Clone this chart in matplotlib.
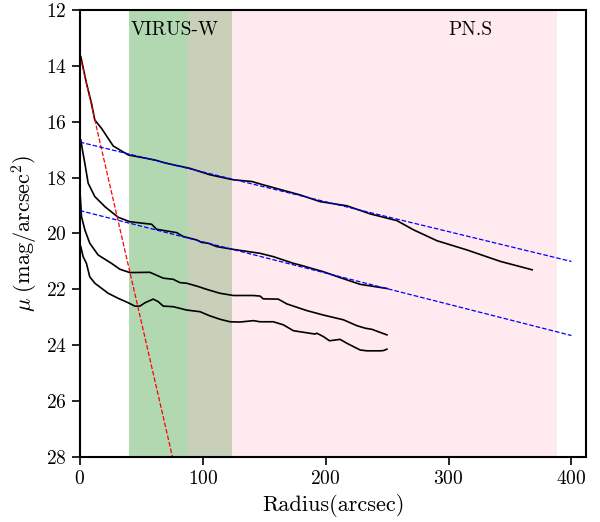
import numpy as np
import matplotlib
matplotlib.use("Agg")
import matplotlib.pyplot as plt

plt.rcParams['font.family'] = 'serif'
plt.rcParams['font.serif'] = ['cmr10', 'DejaVu Serif']
plt.rcParams['mathtext.fontset'] = 'cm'
plt.rcParams['axes.formatter.use_mathtext'] = True

# surface brightness profiles
r1 = [0.8, 5.4, 9.5, 12.2, 17.7, 27.2, 39.4, 61.1, 70.6, 89.6, 105.9, 124.9, 139.9, 149.3,
      165.0, 179.2, 195.5, 217.3, 236.3, 258.0, 271.5, 290.6, 315.0, 342.2, 368.0]
mu1 = [13.67, 14.62, 15.34, 15.94, 16.24, 16.87, 17.19, 17.37, 17.49, 17.67, 17.9, 18.08, 18.14, 18.26,
       18.45, 18.62, 18.86, 19.01, 19.3, 19.54, 19.87, 20.26, 20.59, 21.0, 21.3]

r2 = [0.8, 2.5, 4.1, 6.8, 12.2, 20.4, 31.2, 40.7, 58.4, 62.5, 65.2, 78.8, 84.2, 95.0, 99.1, 104.5,
      111.4, 124.9, 146.6, 157.5, 173.8, 179.2, 198.2, 211.8, 228.1, 248.5, 250.0]
mu2 = [16.65, 17.1, 17.49, 18.2, 18.68, 19.04, 19.42, 19.58, 19.67, 19.85, 19.87, 19.97, 20.11, 20.23,
       20.32, 20.35, 20.47, 20.57, 20.71, 20.83, 21.07, 21.13, 21.37, 21.58, 21.82, 21.96, 21.97]

r3 = [0.3, 1.4, 4.1, 8.1, 14.9, 25.8, 32.6, 40.7, 57.0, 67.9, 76.0, 81.5, 86.9, 96.4, 103.2, 114.0,
      124.9, 141.2, 146.6, 149.3, 161.5, 168.4, 179.2, 184.7, 198.2, 214.5, 225.4, 232.2, 237.6, 249.9]
mu3 = [18.6, 19.4, 19.87, 20.35, 20.77, 21.07, 21.28, 21.4, 21.39, 21.6, 21.64, 21.76, 21.78, 21.9, 22.0, 22.14,
       22.22, 22.22, 22.24, 22.34, 22.35, 22.52, 22.68, 22.76, 22.92, 23.09, 23.3, 23.39, 23.43, 23.63]

r4 = [0.8, 2.7, 5.4, 8.1, 12.2, 23.1, 31.2, 39.4, 44.8, 48.9, 53.0, 59.7, 63.8, 67.9, 76.0, 86.9, 97.8,
      105.9, 114.0, 122.2, 130.3, 141.2, 146.6, 157.5, 165.6, 173.8, 191.4, 192.8, 198.2, 203.1, 211.8,
      217.3, 228.1, 233.6, 244.4, 247.1, 249.9]
mu4 = [20.47, 20.83, 21.07, 21.55, 21.78, 22.14, 22.32, 22.48, 22.6, 22.6, 22.48, 22.35, 22.44, 22.6, 22.62,
       22.74, 22.8, 22.95, 23.07, 23.16, 23.17, 23.12, 23.16, 23.16, 23.27, 23.48, 23.6, 23.57, 23.69, 23.84,
       23.79, 23.93, 24.17, 24.2, 24.2, 24.19, 24.14]

# fitted lines
red_fit = (13.6, 0.191)          # intercept, slope
blue_fits = [(16.73, 0.01068), (19.18, 0.01118)]

fig = plt.figure(figsize=(6.0, 5.22), dpi=100)
ax = fig.add_axes([0.133, 0.1245, 0.844, 0.8565])

ax.axvspan(40, 124, color='green', alpha=0.3, lw=0)
ax.axvspan(88, 388, color='pink', alpha=0.3, lw=0)

for r, mu in [(r1, mu1), (r2, mu2), (r3, mu3), (r4, mu4)]:
    ax.plot(r, mu, color='black', lw=1.2)

xr = np.array([0, 80])
ax.plot(xr, red_fit[0] + red_fit[1] * xr, 'r--', lw=0.9)
xb = np.array([0, 400])
for a, b in blue_fits:
    ax.plot(xb, a + b * xb, 'b--', lw=0.9)

ax.text(41, 12.4, 'VIRUS-W', fontsize=14, va='top', ha='left')
ax.text(318, 12.4, 'PN.S', fontsize=14, va='top', ha='center')

ax.set_xlim(0, 412)
ax.set_ylim(28, 12)
ax.set_yticks(np.arange(12, 29, 2))
ax.set_xticks([0, 100, 200, 300, 400])
ax.tick_params(labelsize=14, length=6, width=1.2, direction='out', top=False, right=False)
for s in ax.spines.values():
    s.set_linewidth(1.5)

ax.set_xlabel('Radius(arcsec)', fontsize=16)
ax.set_ylabel(r'$\mu\ (\mathrm{mag/arcsec^2})$', fontsize=16)

fig.savefig('out.png', dpi=100)
